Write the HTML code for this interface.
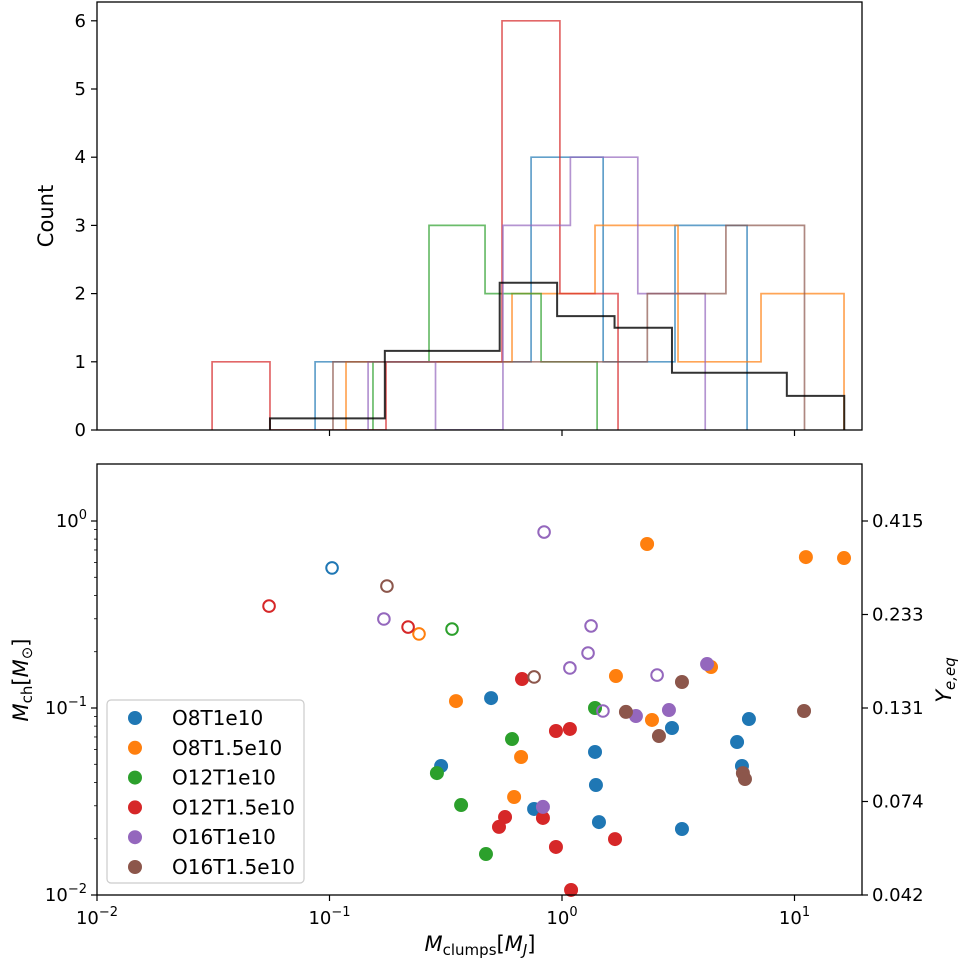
<!DOCTYPE html>
<html><head><meta charset="utf-8"><style>
body{margin:0;background:#fff;}
svg{display:block;font-family:"DejaVu Sans","Liberation Sans",sans-serif;}
</style></head><body>
<svg id="fig" width="967" height="965" viewBox="0 0 967 965" xmlns="http://www.w3.org/2000/svg"></svg>
<script>
// ---- data (log10 units) ----
const seriesNames = ["O8T1e10","O8T1.5e10","O12T1e10","O12T1.5e10","O16T1e10","O16T1.5e10"];
const seriesColors = ["#1f77b4","#ff7f0e","#2ca02c","#d62728","#9467bd","#8c564b"];
// histogram bin edges (log10 Mclumps) and counts
const histEdges0 = [-1.062,-0.752,-0.443,-0.133,0.177,0.486,0.796];
const histCounts0 = [1,1,1,4,1,3];
const histEdges1 = [-0.929,-0.572,-0.215,0.142,0.499,0.856,1.213];
const histCounts1 = [1,1,2,3,1,2];
const histEdges2 = [-0.813,-0.572,-0.331,-0.090,0.151];
const histCounts2 = [1,3,2,1];
const histEdges3 = [-1.505,-1.256,-1.006,-0.757,-0.508,-0.258,-0.009,0.241];
const histCounts3 = [1,0,0,1,1,6,2];
const histEdges4 = [-0.834,-0.544,-0.254,0.036,0.326,0.616];
const histCounts4 = [1,0,3,4,2];
const histEdges5 = [-0.985,-0.647,-0.309,0.029,0.367,0.705,1.043];
const histCounts5 = [1,1,1,1,2,3];
const totalEdges = [-1.256,-1.009,-0.762,-0.515,-0.268,-0.021,0.226,0.473,0.720,0.967,1.214];
const totalValues = [0.17,0.17,1.16,1.16,2.16,1.67,1.5,0.84,0.84,0.5];
// scatter: filled points
const filledX0=[-0.305,-0.520,-0.120,0.473,0.804,0.753,0.774,0.142,0.146,0.159,0.516];
const filledY0=[-0.947,-1.310,-1.540,-1.107,-1.059,-1.182,-1.310,-1.235,-1.412,-1.610,-1.647];
const filledX1=[-0.456,-0.176,-0.206,0.366,1.049,1.213,0.232,0.641,0.387];
const filledY1=[-0.963,-1.262,-1.476,-0.123,-0.193,-0.198,-0.829,-0.781,-1.064];
const filledX2=[-0.215,-0.538,-0.434,-0.327,0.142];
const filledY2=[-1.166,-1.348,-1.519,-1.781,-1.000];
const filledX3=[-0.172,-0.026,0.034,-0.082,-0.245,-0.271,-0.026,0.039,0.228];
const filledY3=[-0.845,-1.123,-1.112,-1.588,-1.583,-1.636,-1.743,-1.973,-1.701];
const filledX4=[-0.082,0.624,0.318,0.460];
const filledY4=[-1.529,-0.765,-1.043,-1.011];
const filledX5=[0.516,0.275,0.417,1.041,0.778,0.787];
const filledY5=[-0.861,-1.021,-1.150,-1.016,-1.348,-1.380];
// scatter: open points
const openX0=[-0.989], openY0=[-0.251];
const openX1=[-0.615], openY1=[-0.604];
const openX2=[-0.473], openY2=[-0.578];
const openX3=[-0.662,-1.260], openY3=[-0.567,-0.455];
const openX4=[-0.766,-0.077,0.034,0.125,0.112,0.409,0.176];
const openY4=[-0.524,-0.059,-0.786,-0.561,-0.706,-0.824,-1.016];
const openX5=[-0.753,-0.120], openY5=[-0.348,-0.834];
const countTicks=[0,1,2,3,4,5,6];
const xTickExp=[-2,-1,0,1];
const yTickExp=[-2,-1,0];
const rightTickLabels=["0.042","0.074","0.131","0.233","0.415"];
const rightTickLogs=[-2,-1.5,-1,-0.5,0];

// ---- layout ----
const L=97,R=862,T1=2,B1=430,T2=464,B2=895;
const X=lx=>L+(lx+2)*232.5;
const Yc=c=>B1-c*68.2;
const Yl=ly=>B2-(ly+2)*187;
const svg=document.getElementById('fig');
const NS="http://www.w3.org/2000/svg";
function mk(tag,attrs,parent){const e=document.createElementNS(NS,tag);for(const k in attrs)e.setAttribute(k,attrs[k]);(parent||svg).appendChild(e);return e;}
function txt(s,attrs,parent){const e=mk('text',attrs,parent);e.textContent=s;return e;}

// ---- top histogram ----
const gTop=mk('g',{});


const clip=mk('clipPath',{id:'c1'});mk('rect',{x:L,y:T1,width:R-L,height:B1-T1},clip);
const hE=[histEdges0,histEdges1,histEdges2,histEdges3,histEdges4,histEdges5];
const hC=[histCounts0,histCounts1,histCounts2,histCounts3,histCounts4,histCounts5];
function stepPath(edges,vals){let d=`M${X(edges[0])},${B1}`;for(let i=0;i<vals.length;i++){d+=` L${X(edges[i])},${Yc(vals[i])} L${X(edges[i+1])},${Yc(vals[i])}`;}d+=` L${X(edges[edges.length-1])},${B1}`;return d;}
for(let s=0;s<6;s++){
  const p=mk('path',{d:stepPath(hE[s],hC[s]),fill:'none',stroke:seriesColors[s],'stroke-width':1.7,'stroke-opacity':0.7,'clip-path':'url(#c1)'},gTop);
  
  
}
const tp=mk('path',{d:stepPath(totalEdges,totalValues),fill:'none',stroke:'#000','stroke-width':2,'stroke-opacity':0.8},gTop);


mk('rect',{x:L,y:T1,width:R-L,height:B1-T1,fill:'none',stroke:'#000','stroke-width':1.3},gTop);
countTicks.forEach(c=>{
  mk('line',{x1:L-6,x2:L,y1:Yc(c),y2:Yc(c),stroke:'#000','stroke-width':1.2},gTop);
  const t=txt(String(c),{x:L-11,y:Yc(c)+6,'text-anchor':'end','font-size':18},gTop);
  
  
});
xTickExp.forEach(e=>{if(e>-2)mk('line',{x1:X(e),x2:X(e),y1:B1,y2:B1+6,stroke:'#000','stroke-width':1.2},gTop);});
const cl=txt('Count',{x:0,y:0,transform:`translate(53,${(T1+B1)/2}) rotate(-90)`,'text-anchor':'middle','font-size':21},gTop);



// ---- bottom scatter ----
const gB=mk('g',{});


const fX=[filledX0,filledX1,filledX2,filledX3,filledX4,filledX5];
const fY=[filledY0,filledY1,filledY2,filledY3,filledY4,filledY5];
const oX=[openX0,openX1,openX2,openX3,openX4,openX5];
const oY=[openY0,openY1,openY2,openY3,openY4,openY5];
for(let s=0;s<6;s++){
  fX[s].forEach((x,i)=>{const c=mk('circle',{cx:X(x),cy:Yl(fY[s][i]),r:7,fill:seriesColors[s]},gB);
    
    });
  oX[s].forEach((x,i)=>{const c=mk('circle',{cx:X(x),cy:Yl(oY[s][i]),r:5.8,fill:'none',stroke:seriesColors[s],'stroke-width':2},gB);
    
    });
}
mk('rect',{x:L,y:T2,width:R-L,height:B2-T2,fill:'none',stroke:'#000','stroke-width':1.3},gB);
xTickExp.forEach(e=>{
  mk('line',{x1:X(e),x2:X(e),y1:B2,y2:B2+6,stroke:'#000','stroke-width':1.2},gB);
  const t=mk('text',{x:X(e),y:B2+29,'text-anchor':'middle','font-size':18},gB);
  
  
  t.innerHTML=`10<tspan dy="-8" font-size="13">${e<0?'\u2212'+(-e):e}</tspan>`;
});
yTickExp.forEach(e=>{
  mk('line',{x1:L-6,x2:L,y1:Yl(e),y2:Yl(e),stroke:'#000','stroke-width':1.2},gB);
  const t=mk('text',{x:L-10,y:Yl(e)+6,'text-anchor':'end','font-size':18},gB);
  
  
  t.innerHTML=`10<tspan dy="-8" font-size="13">${e<0?'\u2212'+(-e):e}</tspan>`;
});
// minor y ticks
for(let d=-2;d<0;d++)for(let m=2;m<=9;m++){const ly=d+Math.log10(m);mk('line',{x1:L-3,x2:L,y1:Yl(ly),y2:Yl(ly),stroke:'#000','stroke-width':0.8},gB);}
rightTickLogs.forEach((ly,i)=>{
  mk('line',{x1:R,x2:R+6,y1:Yl(ly),y2:Yl(ly),stroke:'#000','stroke-width':1.2},gB);
  const t=txt(rightTickLabels[i],{x:R+10,y:Yl(ly)+6,'font-size':18},gB);
  
  
});
const xl=mk('text',{x:480,y:951,'text-anchor':'middle','font-size':21},gB);


xl.innerHTML='<tspan font-style="italic">M</tspan><tspan font-size="15" dy="4">clumps</tspan><tspan dy="-4">[</tspan><tspan font-style="italic">M</tspan><tspan font-size="15" dy="4" font-style="italic">J</tspan><tspan dy="-4">]</tspan>';
const yl=mk('text',{x:0,y:0,transform:`translate(28,680) rotate(-90)`,'text-anchor':'middle','font-size':21},gB);


yl.innerHTML='<tspan font-style="italic">M</tspan><tspan font-size="15" dy="4">ch</tspan><tspan dy="-4">[</tspan><tspan font-style="italic">M</tspan><tspan font-size="15" dy="4">\u2299</tspan><tspan dy="-4">]</tspan>';
const yr=mk('text',{x:0,y:0,transform:`translate(951,680) rotate(-90)`,'text-anchor':'middle','font-size':21},gB);


yr.innerHTML='<tspan font-style="italic">Y</tspan><tspan font-size="15" dy="4" font-style="italic">e,eq</tspan>';

// legend
const gL=mk('g',{});


mk('rect',{x:107,y:700,width:197,height:183,rx:4,fill:'#fff','fill-opacity':0.85,stroke:'#ccc','stroke-width':1.2},gL);
seriesNames.forEach((n,i)=>{
  const y=718+i*29.8;
  const g=mk('g',{},gL);
  
  
  mk('circle',{cx:135,cy:y,r:7,fill:seriesColors[i]},g);
  txt(n,{x:172,y:y+7,'font-size':20},g);
});
</script>
</body></html>
